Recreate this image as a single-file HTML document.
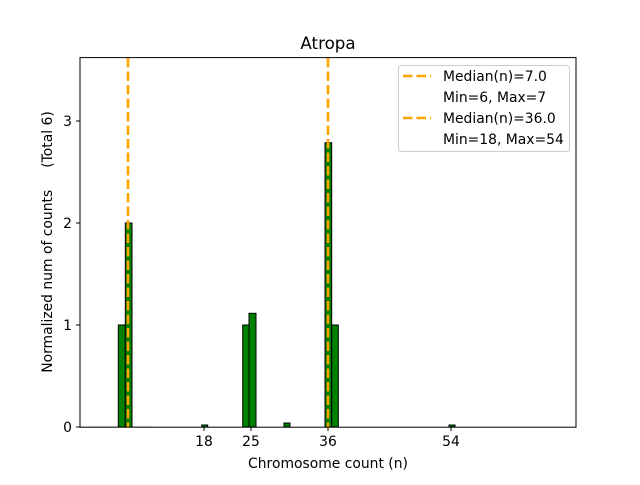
<!DOCTYPE html>
<html><head><style>body{margin:0;background:#fff}</style></head><body>
<svg width="640" height="480" xmlns="http://www.w3.org/2000/svg" font-family="DejaVu Sans, Liberation Sans, sans-serif">
<rect width="640" height="480" fill="#fff"/>
<line x1="80" y1="427" x2="152" y2="427" stroke="#bbb" stroke-width="1"/>
<g fill="#008000" stroke="#000" stroke-width="1">
<rect x="118.3" y="325" width="7" height="102"/>
<rect x="125.3" y="223" width="6.7" height="204"/>
<rect x="201.7" y="425" width="6" height="2"/>
<rect x="242.7" y="325" width="6.3" height="102"/>
<rect x="249" y="313.3" width="7" height="113.7"/>
<rect x="284" y="423" width="6" height="4"/>
<rect x="325" y="142.7" width="6.7" height="284.3"/>
<rect x="331.7" y="325" width="6.6" height="102"/>
<rect x="449" y="425" width="6" height="2"/>
</g>
<g stroke="#FFA500" stroke-width="2.6" stroke-dasharray="9.5,4">
<line x1="128" y1="58" x2="128" y2="427"/>
<line x1="328" y1="58" x2="328" y2="427"/>
</g>
<rect x="80" y="57.6" width="496" height="369.6" fill="none" stroke="#000" stroke-width="1"/>
<g stroke="#000">
<line x1="204" y1="427" x2="204" y2="431"/><line x1="251" y1="427" x2="251" y2="431"/>
<line x1="328" y1="427" x2="328" y2="431"/><line x1="451" y1="427" x2="451" y2="431"/>
<line x1="76" y1="427" x2="80" y2="427"/><line x1="76" y1="325" x2="80" y2="325"/>
<line x1="76" y1="223" x2="80" y2="223"/><line x1="76" y1="121" x2="80" y2="121"/>
</g>
<g font-size="13.9" fill="#000">
<g text-anchor="middle">
<text x="204" y="446">18</text><text x="251" y="446">25</text><text x="328" y="446">36</text><text x="451" y="446">54</text>
<text x="328" y="468">Chromosome count (n)</text>
<text x="328" y="49" font-size="16.7">Atropa</text>
</g>
<g text-anchor="end">
<text x="72" y="432">0</text><text x="72" y="330">1</text><text x="72" y="228">2</text><text x="72" y="126">3</text>
</g>
<text transform="translate(52,242) rotate(-90)" text-anchor="middle" style="white-space:pre" xml:space="preserve">Normalized num of counts     (Total 6)</text>
</g>
<rect x="398.5" y="65.5" width="171" height="86" rx="3" fill="#fff" fill-opacity="0.8" stroke="#ccc"/>
<g stroke="#FFA500" stroke-width="2.6" stroke-dasharray="9.5,4">
<line x1="403" y1="76" x2="431" y2="76"/><line x1="403" y1="118" x2="431" y2="118"/>
</g>
<g font-size="13.9" fill="#000">
<text x="443" y="81">Median(n)=7.0</text>
<text x="443" y="102">Min=6, Max=7</text>
<text x="443" y="123">Median(n)=36.0</text>
<text x="443" y="144">Min=18, Max=54</text>
</g>
</svg>
</body></html>
